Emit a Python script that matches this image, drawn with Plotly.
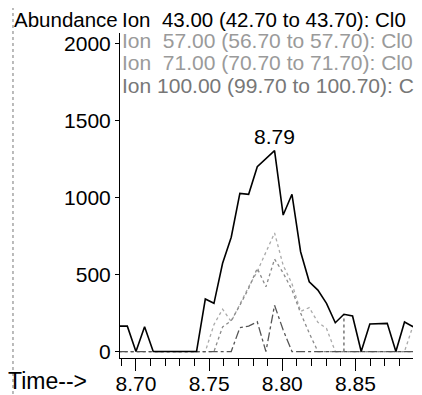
import plotly.graph_objects as go

# scan times (min)
times = [8.6882, 8.6941, 8.7000, 8.7059, 8.7118, 8.7178, 8.7237, 8.7296, 8.7355,
         8.7414, 8.7474, 8.7533, 8.7592, 8.7651, 8.7710, 8.7770, 8.7829, 8.7888,
         8.7947, 8.8006, 8.8066, 8.8125, 8.8184, 8.8243, 8.8302, 8.8362, 8.8421,
         8.8480, 8.8539, 8.8598, 8.8658, 8.8717, 8.8776, 8.8835, 8.8894]

ion43 = [165, 165, 0, 161, 0, 0, 0, 0, 0, 0, 341, 313, 573, 742, 1027, 1021, 1200,
         1250, 1304, 886, 1021, 648, 453, 399, 313, 187, 242, 231, 0, 179, 183, 183,
         0, 192, 161]
ion57 = [0, 0, 0, 0, 0, 0, 0, 0, 0, 0, 0, 175, 275, 195, 310, 420, 520, 640, 770,
         560, 440, 260, 285, 190, 150, 0, 0, 0, 0, 0, 0, 0, 0, 0, 170]
ion71 = [0, 0, 0, 0, 0, 0, 0, 0, 0, 0, 0, 0, 160, 200, 300, 410, 540, 420, 600,
         510, 400, 250, 120, 0, 0, 0, 0, 0, 0, 0, 0, 0, 0, 0, 0]
ion100 = [0, 0, 0, 0, 0, 0, 0, 0, 0, 0, 0, 0, 0, 0, 155, 165, 193, 0, 300, 140,
          0, 0, 0, 0, 0, 0, 0, 0, 0, 0, 0, 0, 0, 0, 0]
spike_t = [8.8421, 8.8421]
spike_v = [0, 242]

legend_labels = ["Ion  43.00 (42.70 to 43.70): Cl0",
                 "Ion  57.00 (56.70 to 57.70): Cl0",
                 "Ion  71.00 (70.70 to 71.70): Cl0",
                 "Ion 100.00 (99.70 to 100.70): C"]
peak_label = "8.79"
peak_time = 8.7947
peak_value = 1304
x_ticks = [8.70, 8.75, 8.80, 8.85]
y_ticks = [0, 500, 1000, 1500, 2000]

FONT = "Liberation Sans, Arial, sans-serif"

fig = go.Figure()
fig.add_trace(go.Scatter(x=times, y=ion57, mode="lines",
                         line=dict(color="#aaaaaa", width=1.3, dash="dot")))
fig.add_trace(go.Scatter(x=times, y=ion71, mode="lines",
                         line=dict(color="#8a8a8a", width=1.3, dash="dot")))
fig.add_trace(go.Scatter(x=times, y=ion100, mode="lines",
                         line=dict(color="#555555", width=1.3, dash="dashdot")))
fig.add_trace(go.Scatter(x=spike_t, y=spike_v, mode="lines",
                         line=dict(color="#777777", width=1.5, dash="dot")))
fig.add_trace(go.Scatter(x=times, y=ion43, mode="lines",
                         line=dict(color="black", width=1.6)))

fig.add_annotation(x=peak_time, y=peak_value, text=peak_label, showarrow=False,
                   yanchor="bottom", yshift=1, font=dict(size=21, color="black", family=FONT))

# header texts
fig.add_annotation(xref="paper", yref="paper", x=-0.3686, y=1.0415, text="Abundance",
                   showarrow=False, xanchor="left", yanchor="middle",
                   font=dict(size=20.5, color="black", family=FONT))
legend_colors = ["black", "#9a9a9a", "#9a9a9a", "#777777"]
legend_y = [1.0415, 0.9754, 0.9077, 0.84]
legend_sizes = [20.5, 21, 21, 21]
for lab, col, yy, sz in zip(legend_labels, legend_colors, legend_y, legend_sizes):
    fig.add_annotation(xref="paper", yref="paper", x=0.0, y=yy, text=lab,
                       showarrow=False, xanchor="left", yanchor="middle",
                       font=dict(size=sz, color=col, family=FONT))
fig.add_annotation(xref="paper", yref="paper", x=-0.389, y=-0.0708, text="Time-->",
                   showarrow=False, xanchor="left", yanchor="middle",
                   font=dict(size=23, color="black", family=FONT))

# dotted frame line of the scanned page
fig.add_shape(type="line", xref="paper", yref="paper", x0=-0.3652, x1=-0.3652,
              y0=1.08, y1=-0.12, line=dict(color="#777777", width=1, dash="dot"))

# the page body adds an 8px margin, so the figure is 8px smaller than the window
fig.update_layout(
    width=414, height=387,
    margin=dict(l=112, r=9, t=25, b=37),
    paper_bgcolor="white", plot_bgcolor="white",
    showlegend=False,
    font=dict(family=FONT, size=21, color="black"),
)
fig.update_xaxes(range=[8.6891, 8.8893], tickvals=x_ticks, tickformat=".2f",
                 automargin=False, ticklabelstandoff=-5,
                 ticks="outside", ticklen=12, tickwidth=1, tickcolor="black",
                 showline=True, linecolor="black", linewidth=1,
                 showgrid=False, zeroline=False,
                 tickfont=dict(size=21, family=FONT, color="black"),
                 minor=dict(ticks="outside", ticklen=7, dtick=0.01, tick0=8.69,
                            tickcolor="black", showgrid=False))
fig.update_yaxes(range=[-42, 2068], tickvals=y_ticks, automargin=False,
                 ticks="outside", ticklen=4, tickwidth=1, tickcolor="black",
                 showline=True, linecolor="black", linewidth=1,
                 showgrid=False, zeroline=False,
                 tickfont=dict(size=21, family=FONT, color="black"))

fig.write_html("out.html")
